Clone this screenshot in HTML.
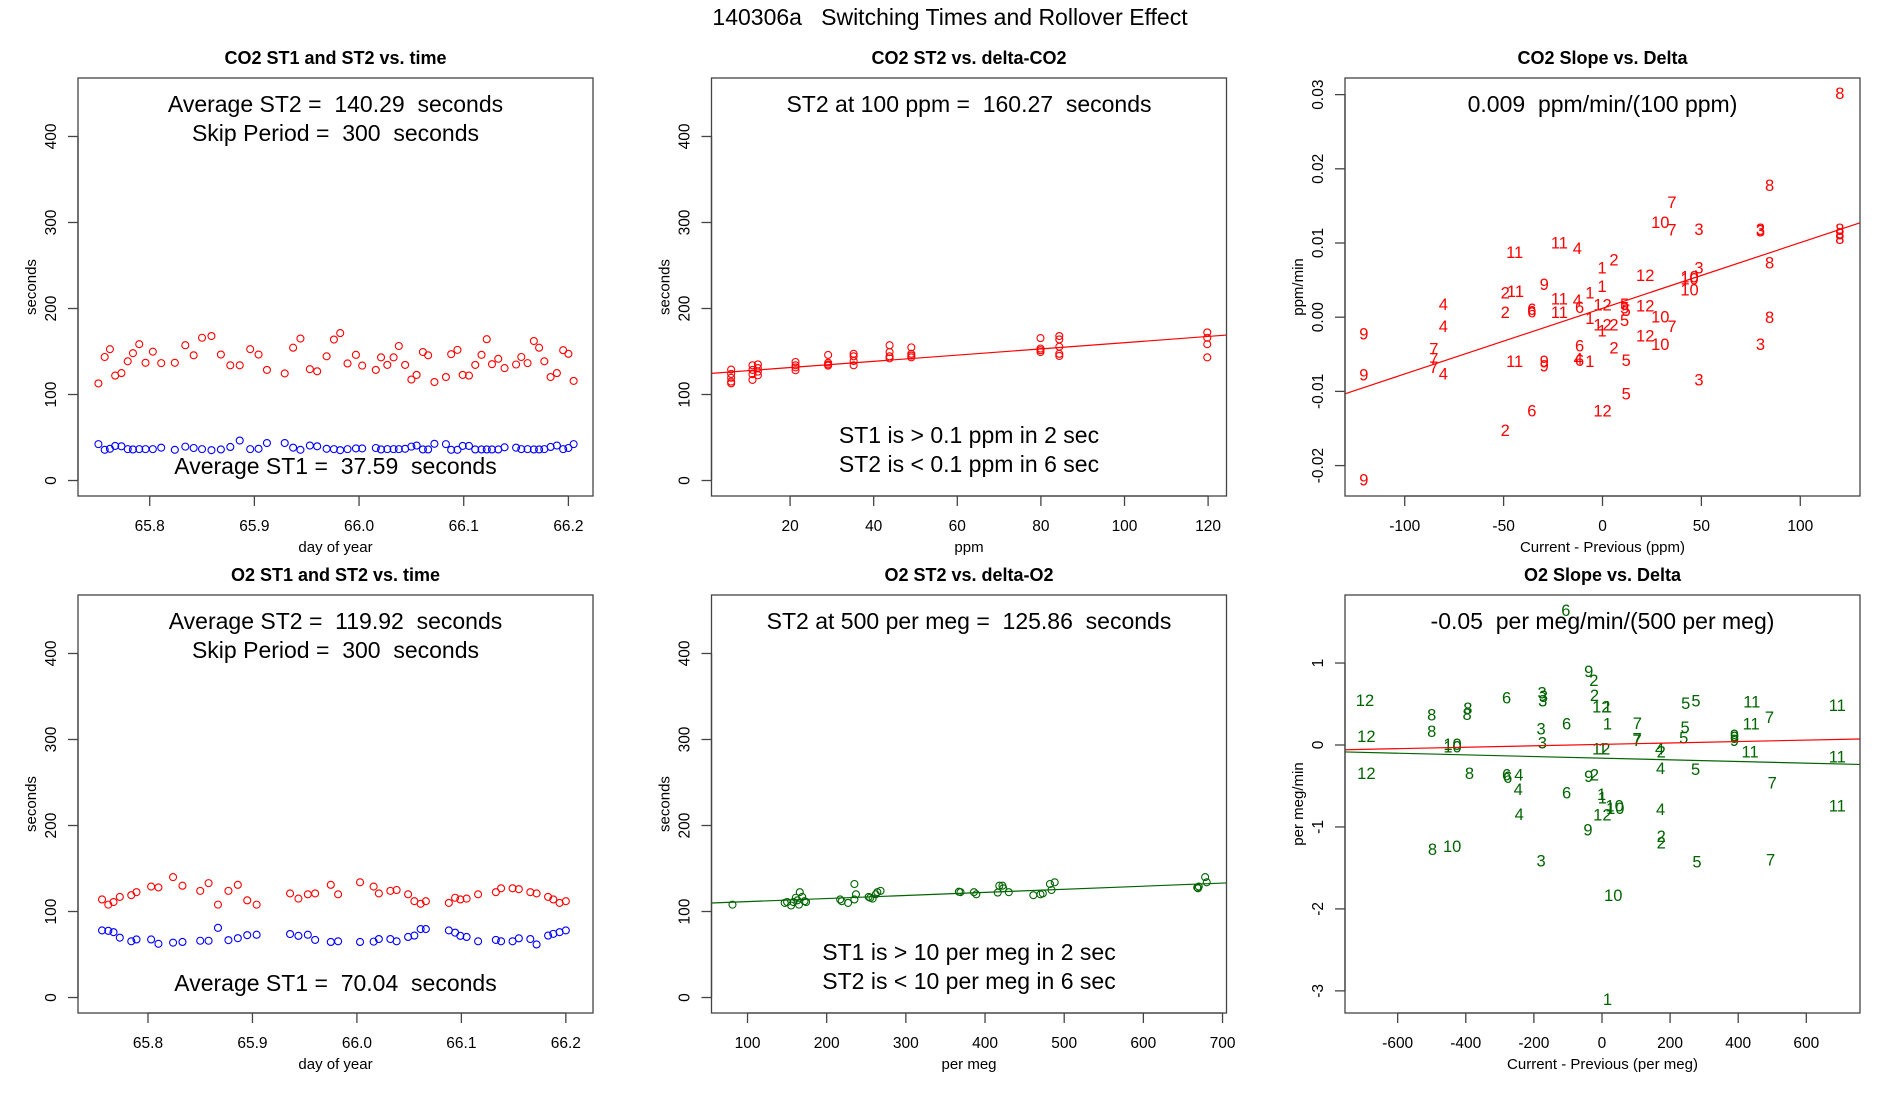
<!DOCTYPE html>
<html><head><meta charset="utf-8"><style>
html,body{margin:0;padding:0;background:#fff;}
svg{display:block;font-family:"Liberation Sans",Arial,sans-serif;}
text{white-space:pre;}
</style></head><body>
<svg id="fig" width="1900" height="1100" viewBox="0 0 1900 1100" xmlns="http://www.w3.org/2000/svg" xml:space="preserve">
<rect width="1900" height="1100" fill="#fff"/>
<text x="950" y="25" text-anchor="middle" font-size="23">140306a   Switching Times and Rollover Effect</text>
</svg>
<script>
// ---- Panel 1: CO2 times ----
const co2Time = [65.751,65.757,65.762,65.767,65.773,65.779,65.784,65.790,65.796,65.803,65.811,65.824,65.834,65.842,65.850,65.859,65.868,65.877,65.886,65.896,65.904,65.912,65.929,65.937,65.944,65.953,65.960,65.969,65.976,65.982,65.989,65.997,66.003,66.016,66.021,66.027,66.033,66.038,66.044,66.050,66.055,66.061,66.066,66.072,66.083,66.088,66.094,66.099,66.105,66.111,66.117,66.122,66.127,66.133,66.139,66.150,66.155,66.161,66.167,66.172,66.177,66.183,66.189,66.195,66.200,66.205];
const co2ST2 = [112.9,143.6,152.7,122.0,124.9,138.6,148.1,158.5,136.9,149.8,136.5,136.9,157.3,145.6,166.0,168.0,146.5,134.0,134.0,152.7,146.5,128.6,124.5,154.4,165.1,129.5,127.0,144.4,163.9,171.4,136.1,146.1,133.6,128.6,143.2,134.4,143.2,156.4,134.4,117.4,122.8,149.4,145.6,114.5,120.3,146.9,151.9,122.8,122.0,134.4,146.1,164.3,135.3,141.5,130.7,134.9,143.6,136.5,162.2,154.4,138.6,120.3,124.9,151.5,147.3,115.8];
const co2ST1 = [42.3,35.7,36.9,40.2,39.8,36.5,36.1,36.5,36.5,36.5,38.2,35.7,39.4,37.8,36.5,35.3,36.1,39.0,46.5,36.5,36.9,43.6,43.6,38.2,35.7,40.7,39.8,36.9,36.5,35.3,36.5,37.3,37.3,37.8,36.1,36.5,36.5,36.5,36.9,39.4,40.7,36.1,36.1,42.7,42.3,35.7,35.7,40.2,40.2,36.1,36.1,36.1,36.1,36.1,38.6,38.2,36.5,36.5,36.1,36.1,36.5,39.0,40.7,36.5,37.8,42.3];
// ---- Panel 4: O2 times ----
const o2Time = [65.756,65.762,65.767,65.773,65.784,65.789,65.803,65.810,65.824,65.833,65.850,65.858,65.867,65.877,65.886,65.895,65.904,65.936,65.944,65.953,65.960,65.975,65.982,66.003,66.016,66.021,66.032,66.038,66.049,66.055,66.061,66.066,66.088,66.094,66.099,66.105,66.116,66.133,66.138,66.149,66.155,66.166,66.172,66.183,66.188,66.194,66.200];
const o2ST2 = [114,108,111,117,119,122.5,129,128,140,130,124,133,108,124,131,113,108,121,115,120,121,131,120,134,129,121,124,125,120,112,109,112,110,116,114,115,120,122.5,127,127,126,122.5,121,117,114,110,112];
const o2ST1 = [78,77.5,76,69.6,65.4,67.5,67.5,62.5,63.8,64.6,66,66,81,66.7,69,72.5,73,73.8,71.7,73,67,64.6,65.4,64.6,65,68,68,65.4,70.4,72,79.6,79.6,78,75.4,71.7,70.4,65.4,67,65.4,65.4,68.8,68,61.7,72,74,76,78];
// ---- Panel 2: CO2 ST2 vs delta ----
const co2Delta = [5.9,5.9,5.9,5.9,5.9,11.0,11.0,11.0,11.0,12.3,12.3,12.3,12.3,21.3,21.3,21.3,21.3,29.1,29.1,29.1,29.1,35.2,35.2,35.2,35.2,43.8,43.8,43.8,43.8,49.0,49.0,49.0,49.0,79.9,79.9,79.9,79.9,84.4,84.4,84.4,84.4,84.4,119.8,119.8,119.8,119.8];
const co2DeltaST2 = [129,124,119.5,115,113,134,128.6,123.6,117,135,130.7,126.6,122.4,137.8,134,131.5,128.2,146,137,135,133.6,147.3,144.4,139,134,157.3,149.4,144.4,142,154.8,147.3,145.2,143.2,165.6,153.5,151.5,149.4,168,164,155.6,147.3,144.8,172.2,166,158.5,143.2];
const co2Fit = [124.1, 0.3617];
// ---- Panel 5: O2 ST2 vs delta ----
const o2Delta = [81,147,150,155,158,161,163,165,166,169,172,174,217,219,227,235,235,237,253,255,258,262,264,268,367,369,386,389,416,418,422,423,430,461,470,473,482,484,488,668,669,670,678,680];
const o2DeltaST2 = [108,110,111,107,111,116,113,108,122.5,117,112,111,114,112,110,132,114,120,117,116,115,120,122.5,124,123,122.5,122.5,120,122,130,130,127,122.5,119,120,121,132,125,134,128,127,129,140,134];
const o2Fit = [107.9, 0.0359];
// ---- Panel 3: CO2 slope vs delta (labels) ----
const co2SlopeLbl = ["8","8","7","10","7","3","3","3","8","8","8","11","11","4","2","1","12","3","10","10","10","8","9","1","1","2","11","11","4","6","12","5","5","5","12","6","6","2","11","4","4","9","1","12","2","1","5","10","7","12","10","3","8","2","6","7","7","7","4","9","11","9","9","4","6","1","5","3","5","6","12","2","9"];
const co2SlopeX = [120,84.5,35.1,29.2,35.1,48.8,79.9,79.9,120,120,120,-44.4,-21.8,-12.7,5.8,-0.2,21.6,48.8,44,44,44,84.5,-29.5,-0.2,-6.4,-49.2,-44,-21.8,-12.7,-11.6,0,11.2,11.2,12,21.6,-35.7,-35.7,-49.2,-21.8,-80.5,-80.5,-120.7,-6.4,0,5.8,-0.2,11.2,29.2,35.1,21.6,29.2,79.9,84.5,5.8,-11.6,-85.3,-85.3,-85.3,-80.5,-120.7,-44.4,-29.5,-29.5,-12.3,-11.6,-6.4,12,48.8,12,-35.7,0,-49.2,-120.7];
const co2SlopeY = [0.0302,0.0178,0.0155,0.0128,0.0118,0.0119,0.0119,0.0117,0.0119,0.0113,0.0107,0.0088,0.0101,0.0093,0.0078,0.0067,0.0057,0.0067,0.0055,0.0052,0.0037,0.0074,0.0045,0.0042,0.0033,0.0033,0.0035,0.0025,0.0023,0.0014,0.0017,0.0018,0.0013,0.0010,0.0016,0.0011,0.0008,0.0007,0.0007,0.0018,-0.0012,-0.0022,-0.0001,-0.0010,-0.0010,-0.0018,-0.0004,0.0001,-0.0012,-0.0025,-0.0036,-0.0036,0.0000,-0.0041,-0.0038,-0.0042,-0.0056,-0.0067,-0.0076,-0.0077,-0.0059,-0.0059,-0.0065,-0.0056,-0.0058,-0.0059,-0.0058,-0.0084,-0.0103,-0.0126,-0.0126,-0.0152,-0.0219];
const co2SlopeFit = [0.0012, 0.0000885];
// ---- Panel 6: O2 slope vs delta (labels) ----
const o2SlopeLbl = ["6","9","2","2","12","1","6","3","3","3","12","8","8","8","8","12","10","10","3","3","6","1","7","7","7","12","1","5","5","5","5","9","9","9","11","11","7","11","11","4","2","11","12","8","6","6","4","9","2","4","5","7","4","6","1","1","10","10","12","4","4","11","9","2","2","8","10","3","5","7","10","1"];
const o2SlopeX = [-106,-39,-24,-22,-2,16,-280,-176,-172,-174,-696,-500,-394,-396,-500,-692,-439,-439,-179,-175,-104,16,104,103,103,-2,2,246,276,244,240,389,389,389,440,438,492,691,435,169,174,691,-692,-389,-280,-277,-244,-39,-22,172,275,500,-246,-104,-1,1,37,39,1,-243,172,691,-41,174,174,-498,-440,-179,279,495,33,16];
const o2SlopeY = [1.65,0.90,0.79,0.61,0.47,0.47,0.58,0.64,0.60,0.54,0.55,0.37,0.45,0.38,0.17,0.11,0.01,-0.02,0.20,0.03,0.26,0.26,0.27,0.08,0.06,-0.04,-0.04,0.51,0.54,0.22,0.09,0.10,0.06,0.12,0.53,0.26,0.34,0.49,-0.08,-0.04,-0.08,-0.14,-0.34,-0.34,-0.36,-0.39,-0.36,-0.38,-0.36,-0.28,-0.29,-0.46,-0.54,-0.58,-0.60,-0.64,-0.74,-0.77,-0.85,-0.84,-0.78,-0.74,-1.03,-1.11,-1.19,-1.27,-1.23,-1.41,-1.42,-1.40,-1.83,-3.10];
const o2SlopeFitRed = [0.0075, 0.000087];
const o2SlopeFitGreen = [-0.161, -0.000101];
// ---- Axis tick labels ----
const timeTicks = [65.8,65.9,66.0,66.1,66.2];
const timeTickLbl = ["65.8","65.9","66.0","66.1","66.2"];
const secTicks = [0,100,200,300,400];
const ppmTicks = [20,40,60,80,100,120];
const permegTicks = [100,200,300,400,500,600,700];
const co2SlopeXTicks = [-100,-50,0,50,100];
const co2SlopeYTicks = [-0.02,-0.01,0,0.01,0.02,0.03];
const co2SlopeYLbl = ["-0.02","-0.01","0.00","0.01","0.02","0.03"];
const o2SlopeXTicks = [-600,-400,-200,0,200,400,600];
const o2SlopeYTicks = [-3,-2,-1,0,1];

const NS = "http://www.w3.org/2000/svg";
const svg = document.getElementById('fig');
function mk(tag, attrs, parent, txt){
  const e = document.createElementNS(NS, tag);
  for (const k in attrs) e.setAttribute(k, attrs[k]);
  if (txt !== undefined) e.textContent = txt;
  (parent || svg).appendChild(e);
  return e;
}
const BW = 515, BH = 418;
function panel(name, bx, by, xlim, ylim, title, xlab, ylab){
  const g = mk('g', {});
  
  
  const sx = v => bx + (v - xlim[0]) / (xlim[1] - xlim[0]) * BW;
  const sy = v => by + BH - (v - ylim[0]) / (ylim[1] - ylim[0]) * BH;
  const t = mk('text', {x: bx + BW/2, y: by - 14, 'text-anchor':'middle', 'font-size':18, 'font-weight':'bold'}, g, title);
  
  
  const xl = mk('text', {x: bx + BW/2, y: by + BH + 56, 'text-anchor':'middle', 'font-size':15}, g, xlab);
  
  
  const yl = mk('text', {x: 0, y: 0, 'text-anchor':'middle', 'font-size':15, transform:`translate(${bx-42},${by+BH/2}) rotate(-90)`}, g, ylab);
  
  
  return {g, sx, sy, bx, by};
}
function box(p){
  const r = mk('rect', {x:p.bx, y:p.by, width:BW, height:BH, fill:'none', stroke:'#444', 'stroke-width':1.3}, p.g);
  
  
}
function xaxis(p, ticks, lbls){
  const a = mk('g', {}, p.g);
  
  
  const y0 = p.by + BH;
  mk('line', {x1:p.sx(ticks[0]), x2:p.sx(ticks[ticks.length-1]), y1:y0, y2:y0, stroke:'#444', 'stroke-width':1.3}, a);
  ticks.forEach((v,i) => {
    mk('line', {x1:p.sx(v), x2:p.sx(v), y1:y0, y2:y0+10, stroke:'#444', 'stroke-width':1.3}, a);
    const t = mk('text', {x:p.sx(v), y:y0+35, 'text-anchor':'middle', 'font-size':15.5}, a, lbls ? lbls[i] : String(v));
    
    
  });
}
function yaxis(p, ticks, lbls){
  const a = mk('g', {}, p.g);
  
  
  const x0 = p.bx;
  mk('line', {x1:x0, x2:x0, y1:p.sy(ticks[0]), y2:p.sy(ticks[ticks.length-1]), stroke:'#444', 'stroke-width':1.3}, a);
  ticks.forEach((v,i) => {
    mk('line', {x1:x0-10, x2:x0, y1:p.sy(v), y2:p.sy(v), stroke:'#444', 'stroke-width':1.3}, a);
    const t = mk('text', {x:0, y:0, 'text-anchor':'middle', 'font-size':15.5, transform:`translate(${x0-22},${p.sy(v)}) rotate(-90)`}, a, lbls ? lbls[i] : String(v));
    
    
  });
}
function circles(p, xs, ys, color, name){
  const s = mk('g', {fill:'none', stroke:color, 'stroke-width':1.1}, p.g);
  
  
  xs.forEach((x,i) => {
    const c = mk('circle', {cx:p.sx(x), cy:p.sy(ys[i]), r:3.5}, s);
    
    
  });
}
function labels(p, lbl, xs, ys, color, name){
  const s = mk('g', {fill:color, 'font-size':16.5, 'text-anchor':'middle'}, p.g);
  
  
  xs.forEach((x,i) => {
    const t = mk('text', {x:p.sx(x), y:p.sy(ys[i]) + 6}, s, lbl[i]);
    
    
  });
}
function fitline(p, xlim, fit, color, name){
  const l = mk('line', {x1:p.sx(xlim[0]), y1:p.sy(fit[0]+fit[1]*xlim[0]), x2:p.sx(xlim[1]), y2:p.sy(fit[0]+fit[1]*xlim[1]), stroke:color, 'stroke-width':1.2}, p.g);
  
  
}
function note(p, y, txt, name){
  const t = mk('text', {x:p.bx + BW/2, y:y, 'text-anchor':'middle', 'font-size':23}, p.g, txt);
  
  
}
const PX = [78, 711.5, 1345], PY = [78, 595];
const secLim = [-18, 468];

// Panel 1
let xl1 = [65.7315, 66.2235];
let p = panel('co2-time-panel', PX[0], PY[0], xl1, secLim, 'CO2 ST1 and ST2 vs. time', 'day of year', 'seconds');
circles(p, co2Time, co2ST2, '#ff0000', 'co2-st2-series');
circles(p, co2Time, co2ST1, '#0000ff', 'co2-st1-series');
note(p, 112, 'Average ST2 =  140.29  seconds', 'avg-st2-note');
note(p, 141, 'Skip Period =  300  seconds', 'skip-period-note');
note(p, 474, 'Average ST1 =  37.59  seconds', 'avg-st1-note');
box(p); xaxis(p, timeTicks, timeTickLbl); yaxis(p, secTicks);

// Panel 2
let xl2 = [1.2, 124.4];
p = panel('co2-delta-panel', PX[1], PY[0], xl2, secLim, 'CO2 ST2 vs. delta-CO2', 'ppm', 'seconds');
circles(p, co2Delta, co2DeltaST2, '#ff0000', 'co2-delta-series');
fitline(p, xl2, co2Fit, '#ff0000', 'co2-fit-line');
note(p, 112, 'ST2 at 100 ppm =  160.27  seconds', 'st2-at-100-note');
note(p, 443, 'ST1 is > 0.1 ppm in 2 sec', 'st1-criteria-note');
note(p, 472, 'ST2 is < 0.1 ppm in 6 sec', 'st2-criteria-note');
box(p); xaxis(p, ppmTicks); yaxis(p, secTicks);

// Panel 3
let xl3 = [-130.2, 130.2];
p = panel('co2-slope-panel', PX[2], PY[0], xl3, [-0.0241, 0.03224], 'CO2 Slope vs. Delta', 'Current - Previous (ppm)', 'ppm/min');
labels(p, co2SlopeLbl, co2SlopeX, co2SlopeY, '#ff0000', 'co2-slope-labels');
fitline(p, xl3, co2SlopeFit, '#ff0000', 'co2-slope-fit');
note(p, 112, '0.009  ppm/min/(100 ppm)', 'co2-slope-note');
box(p); xaxis(p, co2SlopeXTicks); yaxis(p, co2SlopeYTicks, co2SlopeYLbl);

// Panel 4
let xl4 = [65.733, 66.226];
p = panel('o2-time-panel', PX[0], PY[1], xl4, secLim, 'O2 ST1 and ST2 vs. time', 'day of year', 'seconds');
circles(p, o2Time, o2ST2, '#ff0000', 'o2-st2-series');
circles(p, o2Time, o2ST1, '#0000ff', 'o2-st1-series');
note(p, 629, 'Average ST2 =  119.92  seconds', 'avg-st2-note');
note(p, 658, 'Skip Period =  300  seconds', 'skip-period-note');
note(p, 991, 'Average ST1 =  70.04  seconds', 'avg-st1-note');
box(p); xaxis(p, timeTicks, timeTickLbl); yaxis(p, secTicks);

// Panel 5
let xl5 = [54.5, 705];
p = panel('o2-delta-panel', PX[1], PY[1], xl5, secLim, 'O2 ST2 vs. delta-O2', 'per meg', 'seconds');
circles(p, o2Delta, o2DeltaST2, '#006400', 'o2-delta-series');
fitline(p, xl5, o2Fit, '#006400', 'o2-fit-line');
note(p, 629, 'ST2 at 500 per meg =  125.86  seconds', 'st2-at-500-note');
note(p, 960, 'ST1 is > 10 per meg in 2 sec', 'st1-criteria-note');
note(p, 989, 'ST2 is < 10 per meg in 6 sec', 'st2-criteria-note');
box(p); xaxis(p, permegTicks); yaxis(p, secTicks);

// Panel 6
let xl6 = [-754.7, 757.7];
p = panel('o2-slope-panel', PX[2], PY[1], xl6, [-3.27, 1.83], 'O2 Slope vs. Delta', 'Current - Previous (per meg)', 'per meg/min');
labels(p, o2SlopeLbl, o2SlopeX, o2SlopeY, '#006400', 'o2-slope-labels');
fitline(p, xl6, o2SlopeFitRed, '#ff0000', 'o2-slope-fit-red');
fitline(p, xl6, o2SlopeFitGreen, '#006400', 'o2-slope-fit-green');
note(p, 629, '-0.05  per meg/min/(500 per meg)', 'o2-slope-note');
box(p); xaxis(p, o2SlopeXTicks); yaxis(p, o2SlopeYTicks);
</script>
</body></html>
